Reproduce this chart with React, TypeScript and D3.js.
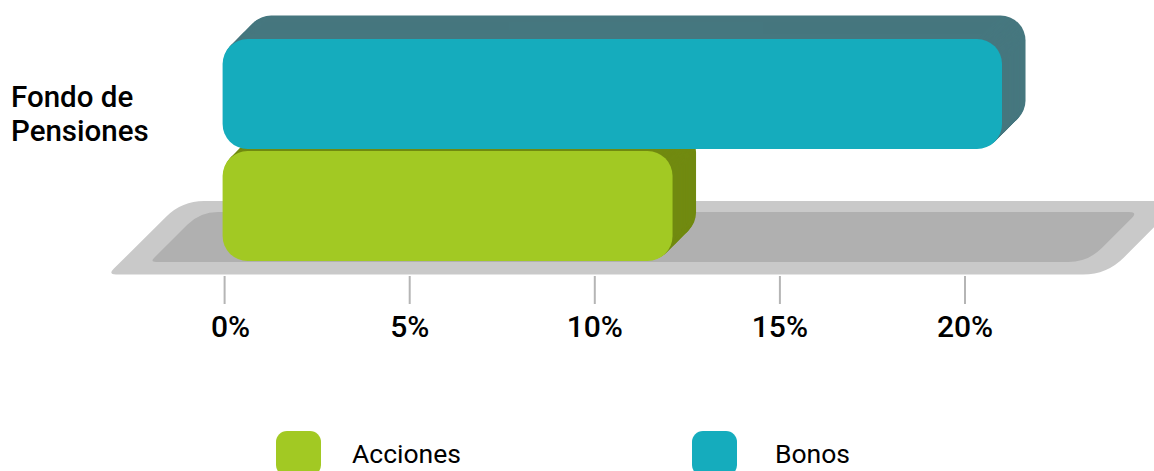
import React from "react";
import * as d3 from "d3";

const categories = ["Fondo de Pensiones"];
const seriesNames = ["Bonos", "Acciones"];
const bonos = [21.0];
const acciones = [12.1];
const tickValues = [0, 5, 10, 15, 20];
const legendItems = ["Acciones", "Bonos"];

const COLORS: Record<string, { front: string; side: string }> = {
  Acciones: { front: "#a2c923", side: "#718a10" },
  Bonos: { front: "#15acbd", side: "#46777f" },
};

const W = 1154;
const H = 471;
const DEPTH = 23.5;

type Corner = { x: number; y: number; r: number };

function roundedPoly(corners: Corner[]): string {
  const n = corners.length;
  const p = d3.path();
  const cut = (a: Corner, b: Corner, r: number) => {
    const dx = b.x - a.x;
    const dy = b.y - a.y;
    const len = Math.hypot(dx, dy);
    return [a.x + (dx / len) * r, a.y + (dy / len) * r];
  };
  for (let i = 0; i < n; i++) {
    const prev = corners[(i - 1 + n) % n];
    const cur = corners[i];
    const next = corners[(i + 1) % n];
    const [sx, sy] = cut(cur, prev, cur.r);
    const [ex, ey] = cut(cur, next, cur.r);
    if (i === 0) p.moveTo(sx, sy);
    else p.lineTo(sx, sy);
    p.quadraticCurveTo(cur.x, cur.y, ex, ey);
  }
  p.closePath();
  return p.toString();
}

export default function App() {
  const x = d3.scaleLinear().domain([0, 20]).range([224.6, 965]);
  const y = d3.scaleBand<string>().domain(categories).range([39, 261]);
  const inner = d3
    .scaleBand<string>()
    .domain(seriesNames)
    .range([0, y.bandwidth()])
    .paddingInner(0.018);

  const valuesBySeries: Record<string, number[]> = { Bonos: bonos, Acciones: acciones };
  const order = ["Acciones", "Bonos"];

  const sides: JSX.Element[] = [];
  const fronts: JSX.Element[] = [];
  categories.forEach((cat, ci) => {
    order.forEach((s) => {
      const v = valuesBySeries[s][ci];
      const x0 = x(0) - 2;
      const w = x(v) - x0;
      const y0 = (y(cat) ?? 0) + (inner(s) ?? 0);
      const h = inner.bandwidth();
      const steps = Math.ceil(DEPTH);
      for (let i = steps; i >= 1; i--) {
        const d = (DEPTH * i) / steps;
        sides.push(
          <rect
            key={`side-${s}-${ci}-${i}`}
            x={x0 + d}
            y={y0 - d}
            width={w}
            height={h}
            rx={25}
            fill={COLORS[s].side}
          />
        );
      }
      fronts.push(
        <rect
          key={`front-${s}-${ci}`}
          x={x0}
          y={y0}
          width={w}
          height={h}
          rx={25}
          fill={COLORS[s].front}
        />
      );
    });
  });

  const outerFloor = roundedPoly([
    { x: 108, y: 274.5, r: 8 },
    { x: 182, y: 201, r: 22 },
    { x: 1180, y: 201, r: 8 },
    { x: 1107, y: 274.5, r: 24 },
  ]);
  const innerFloor = roundedPoly([
    { x: 150, y: 262, r: 6 },
    { x: 200, y: 212, r: 18 },
    { x: 1138, y: 212, r: 9 },
    { x: 1088, y: 262, r: 20 },
  ]);

  return (
    <svg width={W} height={H} style={{ position: "absolute", left: 0, top: 0 }}>
      <rect width={W} height={H} fill="#ffffff" />
      <path d={outerFloor} fill="#c9c9c9" />
      <path d={innerFloor} fill="#b0b0b0" />
      {sides}
      {fronts}
      {tickValues.map((t, i) => (
        <g key={t}>
          <line x1={x(t)} x2={x(t)} y1={276} y2={304} stroke="#b5b5b5" strokeWidth={2} />
          <text
            x={x(t) + (i === 0 ? 6 : 0)}
            y={336.5}
            textAnchor="middle"
            fontFamily="Roboto"
            fontWeight={500}
            fontSize={30}
            fill="#000"
          >
            {`${t}%`}
          </text>
        </g>
      ))}
      {categories.map((c) => {
        const words = c.split(" ");
        const lines = [words.slice(0, 2).join(" "), words.slice(2).join(" ")];
        return (
          <text key={c} fontFamily="Roboto" fontWeight={500} fontSize={29.5} fill="#000">
            {lines.map((l, i) => (
              <tspan key={i} x={11} y={107 + i * 34}>
                {l}
              </tspan>
            ))}
          </text>
        );
      })}
      {legendItems.map((s, i) => {
        const lx = 276 + i * 416;
        return (
          <g key={s}>
            <rect x={lx} y={431} width={45} height={45} rx={11} fill={COLORS[s].front} />
            <text
              x={lx + (i === 0 ? 76 : 83)}
              y={463}
              fontFamily="Roboto"
              fontSize={26.5}
              fill="#000"
            >
              {s}
            </text>
          </g>
        );
      })}
    </svg>
  );
}
